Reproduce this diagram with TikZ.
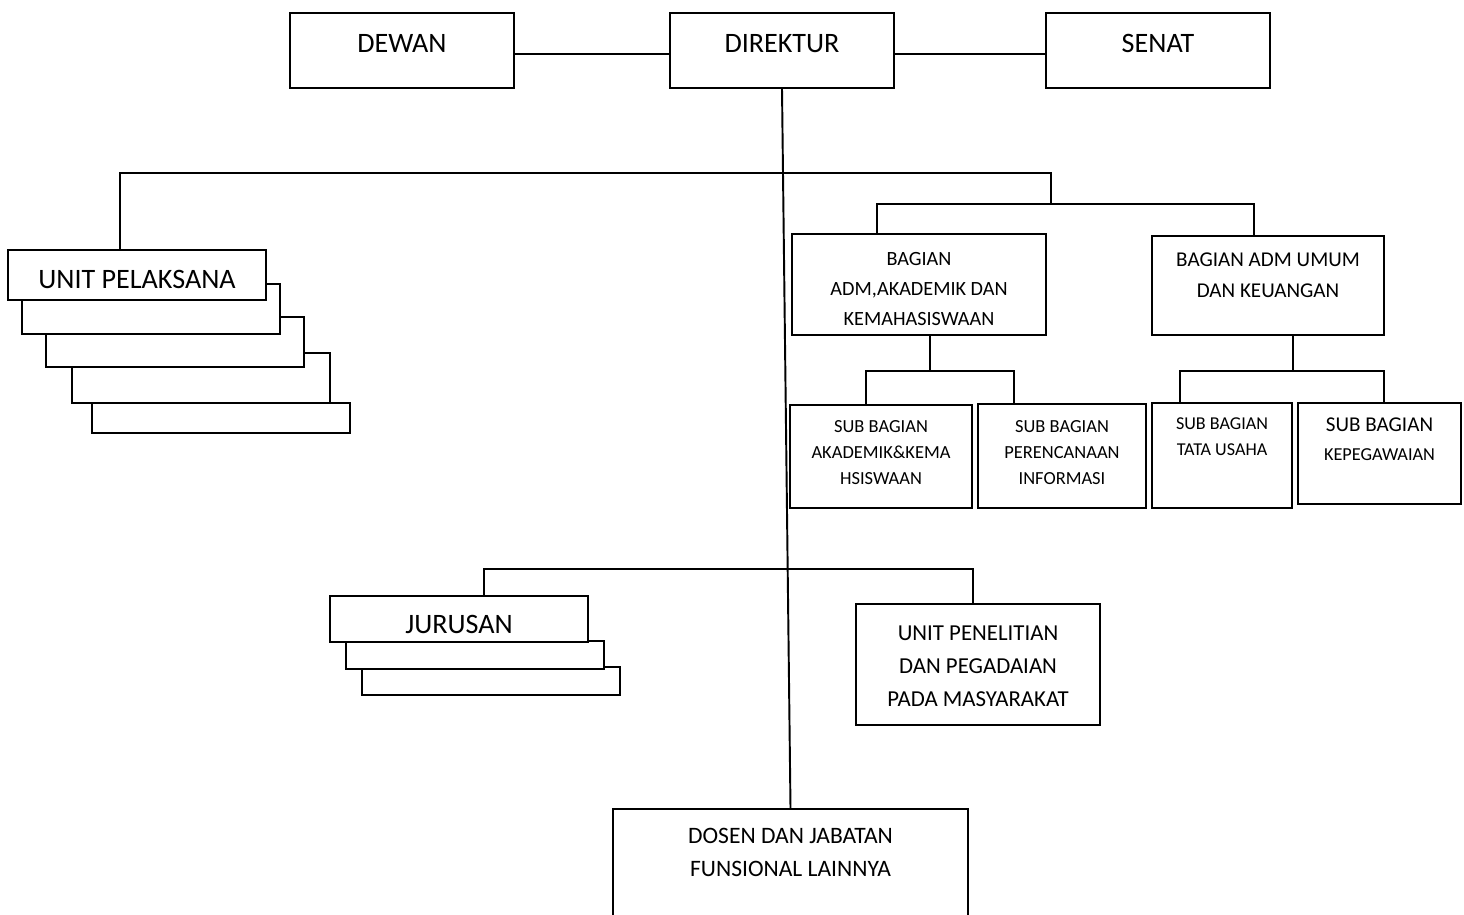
\documentclass[tikz,border=0pt]{standalone}
\usepackage{fontspec}
\setmainfont{Carlito}
\newcommand{\lns}[1]{\begin{tabular}{@{}c@{}}#1\end{tabular}}
\tikzset{
  box/.style={rectangle, draw, fill=white, inner sep=0pt},
  big/.style={font=\fontsize{16}{19}\selectfont},
}
\begin{document}
\begin{tikzpicture}[x=0.02cm, y=-0.02cm, line width=1.1pt]
\useasboundingbox (0,0) rectangle (1464,915);
\clip (0,0) rectangle (1464,915);

\node (dewan) [box, big, anchor=north, minimum width=4.48cm, text height=0.80cm, text depth=0.70cm] at (402,12) {\lns{DEWAN}};
\node (dir) [box, big, anchor=north, minimum width=4.48cm, text height=0.80cm, text depth=0.70cm] at (782,12) {\lns{DIREKTUR}};
\node (senat) [box, big, anchor=north, minimum width=4.48cm, text height=0.80cm, text depth=0.70cm] at (1158,12) {\lns{SENAT}};

\node (up5) [box, minimum width=5.16cm, minimum height=0.6cm] at (221,418) {};
\node (up4) [box, minimum width=5.16cm, minimum height=1.0cm] at (201,378) {};
\node (up3) [box, minimum width=5.16cm, minimum height=1.0cm] at (175,342) {};
\node (up2) [box, minimum width=5.16cm, minimum height=1.0cm] at (151,309) {};
\node (up1) [box, big, anchor=north, minimum width=5.16cm, text height=0.79cm, text depth=0.21cm] at (137,249) {\lns{UNIT PELAKSANA}};

\node (adm) [box, font=\fontsize{11.5}{17}\selectfont, anchor=north, minimum width=5.08cm, text height=1.21cm, text depth=0.81cm] at (919,233) {\lns{BAGIAN\\ADM,AKADEMIK DAN\\KEMAHASISWAAN}};
\node (umum) [box, font=\fontsize{12}{17.6}\selectfont, anchor=north, minimum width=4.64cm, text height=0.91cm, text depth=1.07cm] at (1268,235) {\lns{BAGIAN ADM UMUM\\DAN KEUANGAN}};

\node (sak) [box, font=\fontsize{10.5}{14.7}\selectfont, anchor=north, minimum width=3.64cm, text height=1.06cm, text depth=1.00cm] at (881,404) {\lns{SUB BAGIAN\\AKADEMIK\&KEMA\\HSISWAAN}};
\node (sper) [box, font=\fontsize{10.5}{14.7}\selectfont, anchor=north, minimum width=3.36cm, text height=1.08cm, text depth=1.00cm] at (1062,403) {\lns{SUB BAGIAN\\PERENCANAAN\\INFORMASI}};
\node (stu) [box, font=\fontsize{10.3}{14.7}\selectfont, anchor=north, minimum width=2.8cm, text height=0.78cm, text depth=1.32cm] at (1222,402) {\lns{SUB BAGIAN\\TATA USAHA}};
\node (skp) [box, font=\fontsize{11}{16.5}\selectfont, anchor=north, minimum width=3.26cm, text height=0.85cm, text depth=1.17cm] at (1379.5,402) {\lns{\fontsize{12}{16.5}\selectfont SUB BAGIAN\\\fontsize{10.4}{16.5}\selectfont KEPEGAWAIAN}};

\node (jur3) [box, minimum width=5.16cm, minimum height=0.56cm] at (491,681) {};
\node (jur2) [box, minimum width=5.16cm, minimum height=0.56cm] at (475,655) {};
\node (jur1) [box, big, anchor=north, minimum width=5.16cm, text height=0.77cm, text depth=0.15cm] at (459,595) {\lns{JURUSAN}};

\node (upen) [box, font=\fontsize{13}{18.7}\selectfont, anchor=north, minimum width=4.88cm, text height=1.37cm, text depth=1.05cm] at (978,603) {\lns{UNIT PENELITIAN\\DAN PEGADAIAN\\PADA MASYARAKAT}};
\node (dos) [box, font=\fontsize{13.4}{18.7}\selectfont, anchor=north, minimum width=7.1cm, text height=1.01cm, text depth=1.63cm] at (790.5,808) {\lns{DOSEN DAN JABATAN\\FUNSIONAL LAINNYA}};

\coordinate (t1) at (120,173);
\coordinate (t2) at (1051,173);
\coordinate (b1) at (877,204);
\coordinate (b2) at (1254,204);
\coordinate (a0) at (930,371);
\coordinate (s1) at (866,371);
\coordinate (s2) at (1014,371);
\coordinate (u0) at (1293,371);
\coordinate (s3) at (1180,371);
\coordinate (s4) at (1384,371);
\coordinate (j0) at (484,569);
\coordinate (j1) at (973,569);

\draw ([yshift=-0.07cm]dewan.east) -- ([yshift=-0.07cm]dir.west);
\draw ([yshift=-0.07cm]dir.east) -- ([yshift=-0.07cm]senat.west);
\draw (dir.south) -- (dos.north);
\draw (t1 |- up1.north) -- (t1) -- (t2) -- (t2 |- b1);
\draw (b1 |- adm.north) -- (b1) -- (b2) -- (b2 |- umum.north);
\draw (a0 |- adm.south) -- (a0);
\draw (s1 |- sak.north) -- (s1) -- (s2) -- (s2 |- sper.north);
\draw (u0 |- umum.south) -- (u0);
\draw (s3 |- stu.north) -- (s3) -- (s4) -- (s4 |- skp.north);
\draw (j0 |- jur1.north) -- (j0) -- (j1) -- (j1 |- upen.north);
\end{tikzpicture}
\end{document}
